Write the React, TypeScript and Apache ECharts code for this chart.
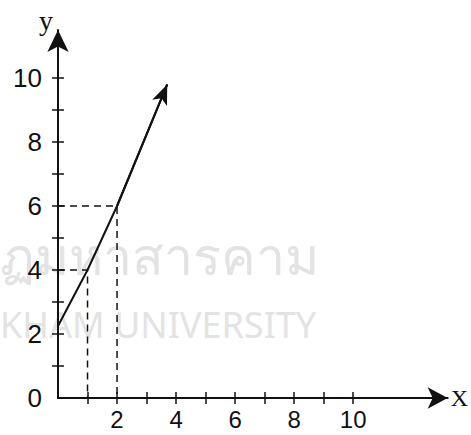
import React, { useEffect, useRef } from "react";
import * as echarts from "echarts";

const xTicks = [1, 2, 3, 4, 5, 6, 7, 8, 9, 10];
const xLabels = [2, 4, 6, 8, 10];
const yTicks = [1, 2, 3, 4, 5, 6, 7, 8, 9, 10];
const yLabels = [0, 2, 4, 6, 8, 10];
const linePoints: [number, number][] = [
  [0, 2.25],
  [1, 4],
  [2, 6],
  [3.7, 9.8],
];
const guide6: [number, number][] = [
  [0, 6],
  [2, 6],
  [2, 0],
];
const guide4: [number, number][] = [
  [0, 4],
  [1, 4],
  [1, 0],
];
const xMax = 13.2;
const yMax = 11.5;
const watermarkThai = "ฏมหาสารคาม";
const watermarkEn = "KHAM UNIVERSITY";

export default function App() {
  const ref = useRef<HTMLDivElement>(null);
  useEffect(() => {
    if (!ref.current) return;
    const chart = echarts.init(ref.current, null, { renderer: "svg" });
    const black = "#111";
    const labelFont = "Liberation Sans, Arial, sans-serif";
    const last = linePoints[linePoints.length - 1];
    const prev = linePoints[linePoints.length - 2];
    chart.setOption({
      animation: false,
      backgroundColor: "#fff",
      grid: { left: 58, right: 16, top: 30, bottom: 37 },
      graphic: [
        {
          type: "text",
          left: 0,
          top: 228,
          z: -10,
          silent: true,
          style: {
            text: watermarkThai,
            fill: "#e3e3e3",
            font: "52px 'Noto Sans', 'DejaVu Sans', sans-serif",
          },
        },
        {
          type: "text",
          left: 0,
          top: 306,
          z: -10,
          silent: true,
          style: {
            text: watermarkEn,
            fill: "#e3e3e3",
            font: "36px 'Noto Sans', sans-serif",
          },
        },
      ],
      xAxis: [
        {
          type: "value",
          min: 0,
          max: xMax,
          interval: 1,
          splitLine: { show: false },
          axisLine: {
            show: true,
            symbol: ["none", "arrow"],
            symbolSize: [16, 20],
            lineStyle: { color: black, width: 2 },
          },
          axisTick: {
            show: true,
            length: 6,
            customValues: xTicks,
            lineStyle: { color: black, width: 1.5 },
          },
          axisLabel: {
            show: true,
            customValues: xLabels,
            color: black,
            fontSize: 24,
            fontFamily: labelFont,
            margin: 9,
          },
          name: "X",
          nameLocation: "end",
          nameGap: 3,
          nameTextStyle: {
            color: black,
            fontSize: 24,
            fontFamily: "Liberation Serif, Times New Roman, serif",
          },
        },
        {
          type: "value",
          min: 0,
          max: xMax,
          interval: 1,
          position: "bottom",
          splitLine: { show: false },
          axisLine: { show: false },
          axisTick: {
            show: true,
            inside: true,
            length: 6,
            customValues: xTicks,
            lineStyle: { color: black, width: 1.5 },
          },
          axisLabel: { show: false },
        },
      ],
      yAxis: [
        {
          type: "value",
          min: 0,
          max: yMax,
          interval: 1,
          splitLine: { show: false },
          axisLine: {
            show: true,
            symbol: ["none", "arrow"],
            symbolSize: [16, 22],
            lineStyle: { color: black, width: 2 },
          },
          axisTick: {
            show: true,
            length: 6,
            customValues: yTicks,
            lineStyle: { color: black, width: 1.5 },
          },
          axisLabel: {
            show: true,
            customValues: yLabels,
            color: black,
            fontSize: 26,
            fontFamily: labelFont,
            margin: 16,
          },
          name: "y",
          nameLocation: "end",
          nameGap: -4,
          nameTextStyle: {
            color: black,
            fontSize: 28,
            fontFamily: "Liberation Serif, Times New Roman, serif",
            align: "right",
            padding: [0, 5, 0, 0],
          },
        },
        {
          type: "value",
          min: 0,
          max: yMax,
          interval: 1,
          position: "left",
          splitLine: { show: false },
          axisLine: { show: false },
          axisTick: {
            show: true,
            inside: true,
            length: 6,
            customValues: yTicks,
            lineStyle: { color: black, width: 1.5 },
          },
          axisLabel: { show: false },
        },
      ],
      series: [
        {
          type: "line",
          data: guide6,
          symbol: "none",
          lineStyle: { color: black, width: 1.5, type: [7, 5] },
        },
        {
          type: "line",
          data: guide4,
          symbol: "none",
          lineStyle: { color: black, width: 1.5, type: [7, 5] },
        },
        {
          type: "line",
          data: linePoints,
          symbol: "none",
          lineStyle: { color: black, width: 2 },
          markLine: {
            silent: true,
            symbol: ["none", "arrow"],
            symbolSize: [12, 20],
            label: { show: false },
            lineStyle: { color: black, width: 2, type: "solid" },
            data: [[{ coord: prev }, { coord: last }]],
          },
        },
      ],
    });
    return () => chart.dispose();
  }, []);
  return (
    <div
      ref={ref}
      style={{ position: "absolute", left: 0, top: 0, width: 471, height: 435 }}
    />
  );
}
